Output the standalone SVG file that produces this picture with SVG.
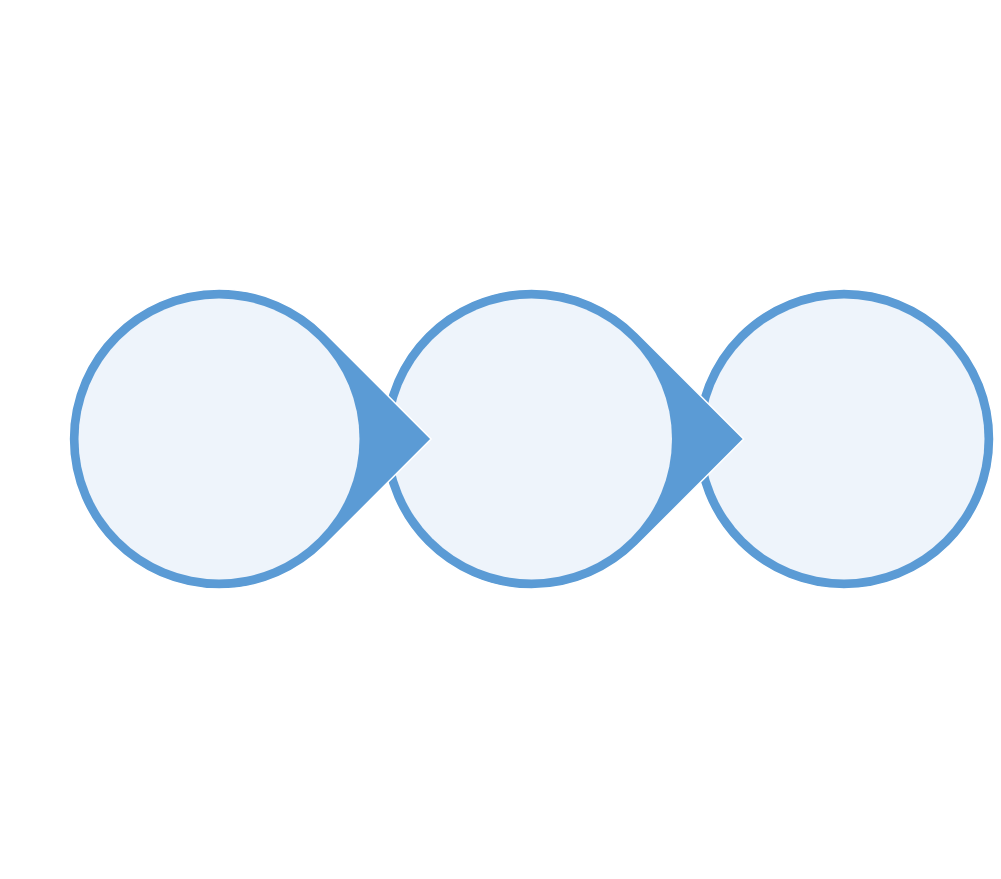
<svg xmlns="http://www.w3.org/2000/svg" width="1001" height="879" viewBox="0 0 1001 879">
  <style>
    .outer { fill: #5B9BD5; stroke: #FFFFFF; stroke-width: 1.5; stroke-linejoin: miter; }
    .inner { fill: #EEF4FB; stroke: none; }
  </style>
  <rect x="0" y="0" width="1001" height="879" fill="#FFFFFF"/>
  <g id="node3">
    <circle class="outer" cx="844" cy="439" r="150"/>
    <circle class="inner" cx="844" cy="439" r="140.5"/>
  </g>
  <g id="node2">
    <path class="outer" d="M 743.6 439 L 637.6 332.9 A 150 150 0 1 0 637.6 545.1 Z"/>
    <circle class="inner" cx="531.5" cy="439" r="140.5"/>
  </g>
  <g id="node1">
    <path class="outer" d="M 431.1 439 L 325.1 332.9 A 150 150 0 1 0 325.1 545.1 Z"/>
    <circle class="inner" cx="219" cy="439" r="140.5"/>
  </g>
  <g id="connectors"></g>
</svg>
